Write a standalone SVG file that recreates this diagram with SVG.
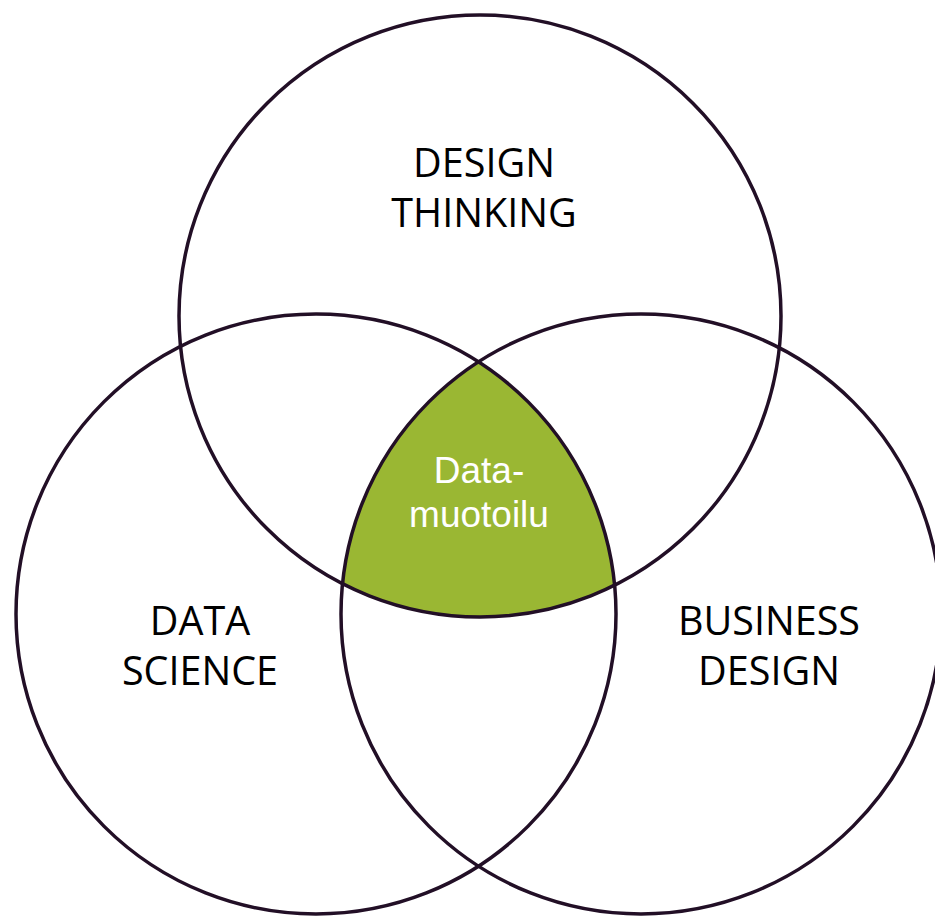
<svg xmlns="http://www.w3.org/2000/svg" width="935" height="917" viewBox="0 0 935 917">
<style>
.c{fill:none;stroke:#220f26;stroke-width:3.5}
.lbl{font-family:"Open Sans","Noto Sans",sans-serif;font-size:39.5px;fill:#000;text-anchor:middle}
.ctr{font-family:"Liberation Sans",Arial,sans-serif;font-size:37px;fill:#fff;text-anchor:middle}
</style>
<rect width="935" height="917" fill="#fff"/>
<g id="center">
<path d="M478.5 361.8 A300 300 0 0 0 342.5 583.8 A301 301 0 0 0 614.5 585.2 A300 300 0 0 0 478.5 361.8 Z" fill="#9ab733"/>
<text class="ctr" x="479" y="483">Data-</text>
<text class="ctr" x="479" y="527">muotoilu</text>
</g>
<g id="design-thinking">
<circle class="c" cx="480" cy="316" r="301"/>
<text class="lbl" x="484" y="177">DESIGN</text>
<text class="lbl" x="484" y="227">THINKING</text>
</g>
<g id="data-science">
<circle class="c" cx="316" cy="614" r="300"/>
<text class="lbl" x="200" y="635">DATA</text>
<text class="lbl" x="200" y="685">SCIENCE</text>
</g>
<g id="business-design">
<circle class="c" cx="641" cy="614" r="300"/>
<text class="lbl" x="769" y="635">BUSINESS</text>
<text class="lbl" x="769" y="685">DESIGN</text>
</g>
</svg>
